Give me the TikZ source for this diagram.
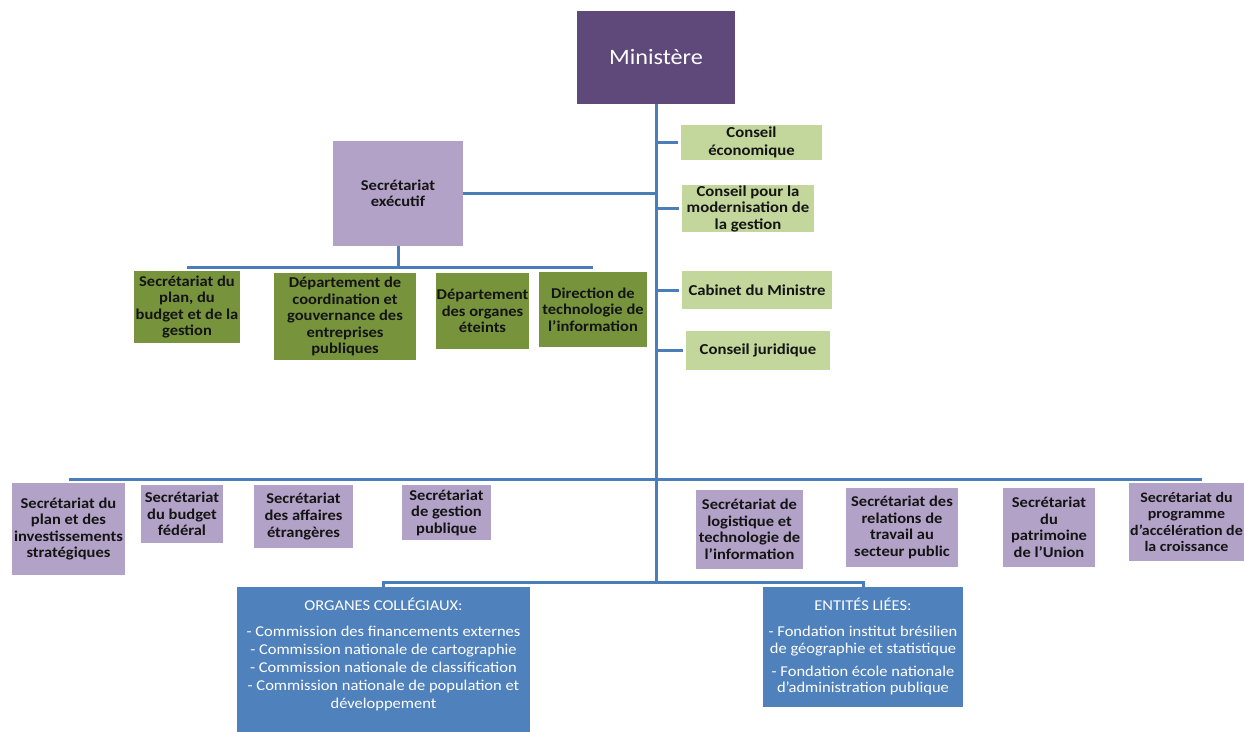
\documentclass[tikz,border=0pt]{standalone}
\usepackage{fontspec}
\setmainfont{Carlito}[FakeStretch=1.1]
\definecolor{ministere}{HTML}{5F497A}
\definecolor{lpurple}{HTML}{B3A2C7}
\definecolor{dkgreen}{HTML}{77933C}
\definecolor{ltgreen}{HTML}{C3D69B}
\definecolor{boxblue}{HTML}{4F81BD}
\definecolor{lineblue}{HTML}{4A7EBB}
\begin{document}
\begin{tikzpicture}[x=1pt,y=-1pt,
  box/.style={inner sep=0pt, align=center, text=black!92, font=\bfseries\fontsize{15}{16.5}\selectfont},
  purp/.style={box, fill=lpurple},
  dgreen/.style={box, fill=dkgreen},
  lgreen/.style={box, fill=ltgreen, font=\bfseries\fontsize{15.2}{16.5}\selectfont},
  bluebox/.style={inner sep=0pt, fill=boxblue, text=white},
  conn/.style={draw=lineblue, line width=3pt},
  sz/.style 2 args={minimum width=#1pt, minimum height=#2pt},
]
\useasboundingbox (0,0) rectangle (1244,731);
\clip (0,0) rectangle (1244,731);
\fill[white] (0,0) rectangle (1244,731);

% top
\node[fill=ministere, text=white, inner sep=0pt, font=\fontsize{22}{26}\selectfont, sz={158}{93}] (min) at (656,57.5) {Ministère};

% right councils
\node[lgreen, sz={141}{35}] (ce) at (751.5,142.5) {Conseil\\[1.5pt]économique};
\node[lgreen, sz={132}{47}] (cm) at (748,208.5) {Conseil pour la\\modernisation de\\la gestion};
\node[lgreen, sz={150}{38}] (cab) at (757,290) {Cabinet du Ministre};
\node[lgreen, sz={144}{39}] (cj) at (758,350.5) {Conseil juridique};

% executive secretariat
\node[purp, sz={130}{105}] (se) at (398,193.5) {Secrétariat\\exécutif};

% green departments
\node[dgreen, sz={106}{72}] (g1) at (187,307) {Secrétariat du\\plan, du\\budget et de la\\gestion};
\node[dgreen, sz={142}{87}] (g2) at (345,316.5) {Département de\\coordination et\\gouvernance des\\entreprises\\publiques};
\node[dgreen, sz={93}{76}] (g3) at (482.5,311) {Département\\des organes\\éteints};
\node[dgreen, sz={108}{75}] (g4) at (593,309.5) {Direction de\\technologie de\\l’information};

% secretariats row
\node[purp, sz={113}{92}] (p1) at (68.5,529) {Secrétariat du\\plan et des\\investissements\\stratégiques};
\node[purp, sz={82}{58}] (p2) at (182,514) {Secrétariat\\du budget\\fédéral};
\node[purp, sz={99}{63}] (p3) at (303.5,516.5) {Secrétariat\\des affaires\\étrangères};
\node[purp, sz={89}{55}] (p4) at (446.5,512.5) {Secrétariat\\de gestion\\publique};
\node[purp, sz={107}{79}] (p5) at (749.5,529.5) {Secrétariat de\\logistique et\\technologie de\\l’information};
\node[purp, sz={112}{79}] (p6) at (902,527.5) {Secrétariat des\\relations de\\travail au\\secteur public};
\node[purp, sz={92}{79}] (p7) at (1049,527.5) {Secrétariat\\du\\patrimoine\\de l’Union};
\node[purp, sz={115}{78}, font=\bfseries\fontsize{14.5}{16.5}\selectfont] (p8) at (1186.5,522) {Secrétariat du\\programme\\d’accélération de\\la croissance};

% bottom blue boxes
\node[bluebox, anchor=north, sz={293}{148}] (og) at (383.5,587) {%
  \begin{minipage}[c][148pt][t]{293pt}\centering\fontsize{15}{18}\selectfont
  \vspace*{11pt}
  ORGANES COLLÉGIAUX:\\[8pt]
  - Commission des financements externes\\
  - Commission nationale de cartographie\\
  - Commission nationale de classification\\
  - Commission nationale de population et\\
  développement
  \end{minipage}};
\node[bluebox, anchor=north, sz={200}{120}] (el) at (863,587) {%
  \begin{minipage}[c][120pt][t]{200pt}\centering\fontsize{15}{16.5}\selectfont
  \vspace*{11pt}
  ENTITÉS LIÉES:\\[9.5pt]
  - Fondation institut brésilien\\
  de géographie et statistique\\[6.5pt]
  - Fondation école nationale\\
  d'administration publique
  \end{minipage}};

% connector coordinates
\coordinate (bbar) at (656,582);
\coordinate (gbar) at (398,267);
\coordinate (pbar) at (656,479);
\coordinate (pbarR) at (1202,479);

% connectors
\draw[conn] (min.south) -- (bbar);
\foreach \n in {ce,cm,cab,cj} \draw[conn, shorten >=3pt] (min.south |- \n.west) -- (\n.west);
\draw[conn] (se.east) -- (min.south |- se.east);
\draw[conn] (se.south) -- (gbar);
\draw[conn] (g1.north |- gbar) -- (g4.north |- gbar);
\draw[conn] (p1.north |- pbar) -- (pbarR);
\draw[conn] (og.north) -- (og.north |- bbar) -- (el.north |- bbar) -- (el.north);
\end{tikzpicture}
\end{document}
